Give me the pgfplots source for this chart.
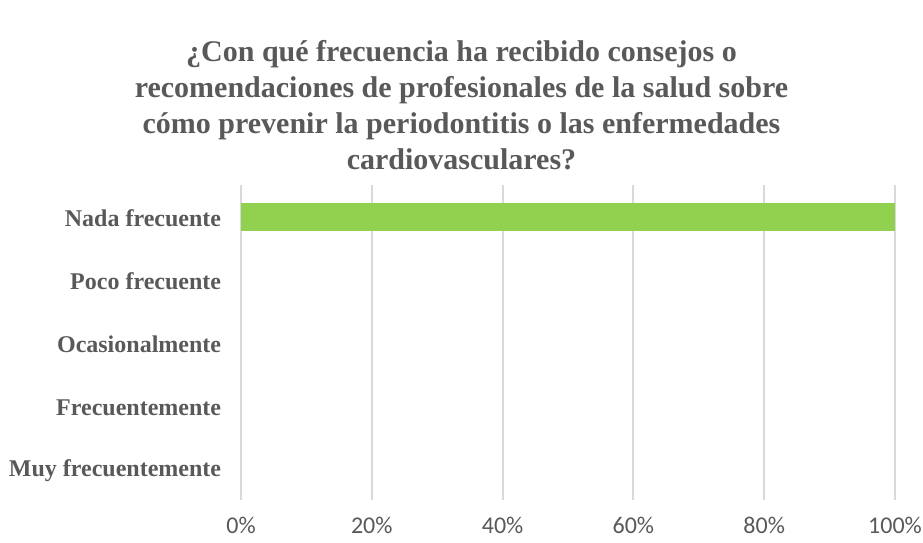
\documentclass[border=0pt]{standalone}
\usepackage{pgfplots}
\pgfplotsset{compat=1.18}
\usepackage{fontspec}
\setmainfont{Liberation Serif}
\newfontfamily\timesbold{Liberation Serif Bold}
\newfontfamily\calibri{Carlito}
\definecolor{txtgray}{HTML}{595959}
\definecolor{bargreen}{HTML}{92D050}
\definecolor{gridgray}{HTML}{D9D9D9}
\begin{document}
\begin{tikzpicture}
\path[use as bounding box] (0,0) rectangle (461.5pt,271pt);
\node[align=center, text=txtgray, font=\timesbold\fontsize{15pt}{18pt}\selectfont] at (230.75pt,218.5pt)
{¿Con qué frecuencia ha recibido consejos o\\recomendaciones de profesionales de la salud sobre\\cómo prevenir la periodontitis o las enfermedades\\cardiovasculares?};
\begin{axis}[
  at={(120.5pt,21pt)}, anchor=south west,
  width=327pt, height=157.5pt, scale only axis,
  xbar, bar width=14pt,
  xmin=0, xmax=100, ymin=-0.5, ymax=4.5,
  xtick={0,20,40,60,80,100},
  xticklabels={0\%,20\%,40\%,60\%,80\%,100\%},
  ytick={0,1,2,3,4},
  yticklabels={Muy frecuentemente,Frecuentemente,Ocasionalmente,Poco frecuente,Nada frecuente},
  axis line style={draw=none},
  major tick style={draw=none},
  xmajorgrids, grid style={gridgray, line width=1pt},
  /pgf/number format/assume math mode=true,
  xticklabel style={font=\calibri\fontsize{12pt}{14pt}\selectfont, text=txtgray, anchor=north, inner sep=0pt, yshift=-8.5pt},
  yticklabel style={font=\timesbold\fontsize{12pt}{14pt}\selectfont, text=txtgray, anchor=east, inner sep=0pt, xshift=-5.5pt, yshift=-1pt},
]
\addplot[fill=bargreen, draw=none] coordinates {(100,4)};
\end{axis}
\end{tikzpicture}
\end{document}
